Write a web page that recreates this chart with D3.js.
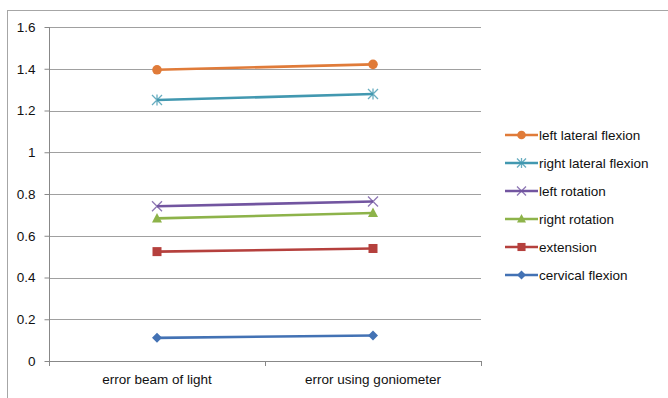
<!DOCTYPE html>
<html><head><meta charset="utf-8">
<script src="https://cdn.jsdelivr.net/npm/d3@7"></script>
<style>body{margin:0;background:#fff}svg{display:block}text{font-family:"Liberation Sans",Arial,sans-serif;fill:#111}</style>
</head><body><svg id="c" width="668" height="398"></svg>
<script>
const categories = ["error beam of light", "error using goniometer"];
const seriesNames = ["left lateral flexion","right lateral flexion","left rotation","right rotation","extension","cervical flexion"];
const leftLateralFlexion = [1.395, 1.421];
const rightLateralFlexion = [1.25, 1.279];
const leftRotation = [0.741, 0.764];
const rightRotation = [0.683, 0.709];
const extension = [0.524, 0.539];
const cervicalFlexion = [0.111, 0.122];
const yTicks = [0, 0.2, 0.4, 0.6, 0.8, 1, 1.2, 1.4, 1.6];

const values = [leftLateralFlexion, rightLateralFlexion, leftRotation, rightRotation, extension, cervicalFlexion];
const colors = ["#E07B39","#4298B0","#7255A0","#8DB34A","#B5403D","#4372B4"];
const markers = ["circle","asterisk","cross","triangle","square","diamond"];
const FONT = "13.5px";

const svg = d3.select("#c");
const L = 49, R = 481, T = 27, B = 361;
const x = d3.scaleBand().domain(categories).range([L, R]);
const y = d3.scaleLinear().domain([0, 1.6]).range([B, T]);

svg.append("rect").attr("x",7.5).attr("y",10.5).attr("width",700).attr("height",400)
  .attr("fill","none").attr("stroke","#A6A6A6").attr("stroke-width",1);

svg.append("g").selectAll("line").data(yTicks.filter(d=>d>0)).join("line")
  .attr("x1",L).attr("x2",R).attr("y1",d=>Math.round(y(d))+0.5).attr("y2",d=>Math.round(y(d))+0.5)
  .attr("stroke","#A0A0A0").attr("stroke-width",1);

const ya = svg.append("g").attr("transform",`translate(${L+0.5},0)`)
  .call(d3.axisLeft(y).tickValues(yTicks).tickSize(5).tickPadding(9).tickFormat(d=>d3.format("")(d)));
ya.select(".domain").attr("stroke","#888").attr("d",`M-0,${T}V${B}`);
ya.selectAll(".tick line").attr("stroke","#888");
ya.selectAll(".tick text").attr("font-size",FONT).attr("fill","#111").attr("font-family","Liberation Sans, Arial, sans-serif");

const xa = svg.append("g").attr("transform",`translate(0,${B+0.5})`)
  .call(d3.axisBottom(x).tickSize(0).tickPadding(13));
xa.select(".domain").attr("stroke","#888").attr("d",`M${L},0H${R}`);
xa.selectAll(".tick text").attr("font-size",FONT).attr("fill","#111").attr("font-family","Liberation Sans, Arial, sans-serif");
const bounds = [L, L + x.bandwidth(), R];
svg.append("g").selectAll("line").data(bounds).join("line")
  .attr("x1",d=>Math.round(d)+0.5).attr("x2",d=>Math.round(d)+0.5).attr("y1",B).attr("y2",B+5)
  .attr("stroke","#888");

function drawMarker(g, type, cx, cy, color, s) {
  s = s || 1;
  if (type==="circle") g.append("circle").attr("cx",cx).attr("cy",cy).attr("r",4.8*s).attr("fill",color);
  else if (type==="square") g.append("rect").attr("x",cx-4.5*s).attr("y",cy-4.5*s).attr("width",9*s).attr("height",9*s).attr("fill",color);
  else if (type==="diamond") g.append("path").attr("d",`M${cx},${cy-5*s}L${cx+5*s},${cy}L${cx},${cy+5*s}L${cx-5*s},${cy}Z`).attr("fill",color);
  else if (type==="triangle") g.append("path").attr("d",`M${cx},${cy-5.5*s}L${cx+5*s},${cy+4*s}L${cx-5*s},${cy+4*s}Z`).attr("fill",color);
  else if (type==="cross") g.append("path").attr("d",`M${cx-5*s},${cy-5*s}L${cx+5*s},${cy+5*s}M${cx-5*s},${cy+5*s}L${cx+5*s},${cy-5*s}`).attr("stroke",color).attr("stroke-width",1.3).attr("fill","none").attr("opacity",0.8);
  else if (type==="asterisk") g.append("path").attr("d",`M${cx-5*s},${cy-5*s}L${cx+5*s},${cy+5*s}M${cx-5*s},${cy+5*s}L${cx+5*s},${cy-5*s}M${cx},${cy-5.5*s}L${cx},${cy+5.5*s}`).attr("stroke",color).attr("stroke-width",1.3).attr("fill","none").attr("opacity",0.8);
}

const line = d3.line().x((d,i)=>x(categories[i]) + x.bandwidth()/2).y(d=>y(d));
const plot = svg.append("g");
values.forEach((vals, si) => {
  const g = plot.append("g");
  g.append("path").attr("d", line(vals)).attr("fill","none").attr("stroke",colors[si]).attr("stroke-width",2.6);
  vals.forEach((v,i)=> drawMarker(g, markers[si], x(categories[i]) + x.bandwidth()/2, y(v), colors[si]));
});

const lg = svg.append("g");
seriesNames.forEach((name, i) => {
  const ly = 135 + i*28;
  const g = lg.append("g");
  g.append("line").attr("x1",505).attr("x2",538).attr("y1",ly).attr("y2",ly).attr("stroke",colors[i]).attr("stroke-width",2.6);
  drawMarker(g, markers[i], 521.5, ly, colors[i], 0.9);
  g.append("text").attr("x",539).attr("y",ly+5).attr("font-size",FONT).text(name);
});
</script></body></html>
